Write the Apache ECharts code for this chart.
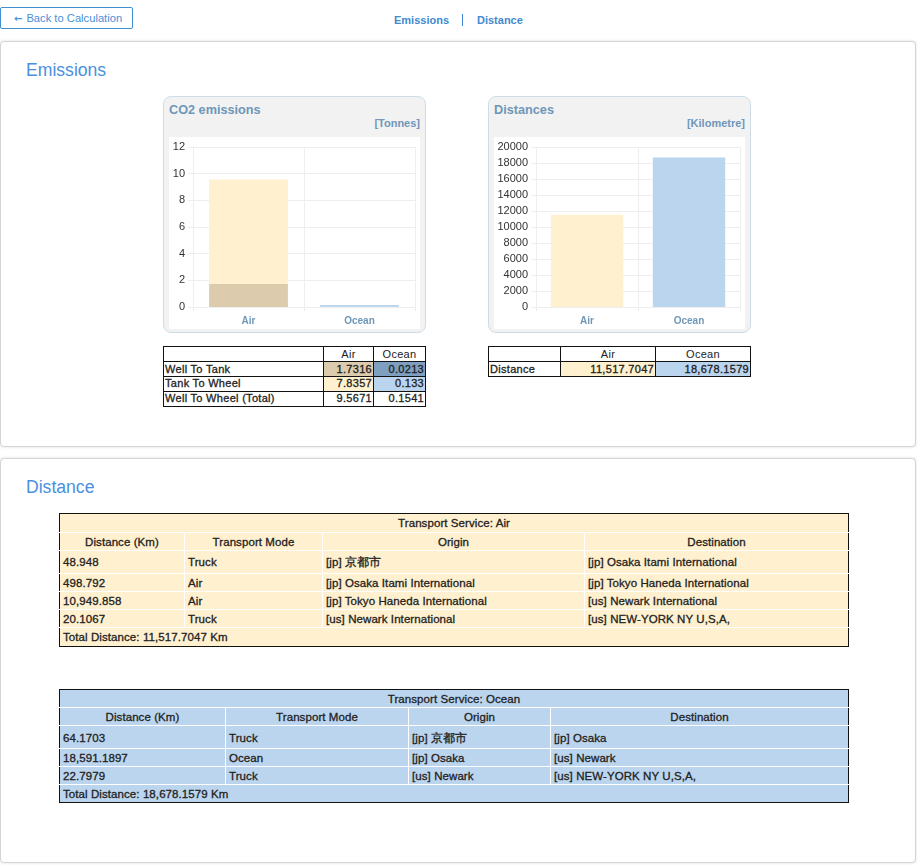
<!DOCTYPE html>
<html><head><meta charset="utf-8">
<script src="https://cdn.jsdelivr.net/npm/echarts@6/dist/echarts.min.js"></script>
<style>
html,body{margin:0;padding:0;background:#fff;width:917px;height:865px;overflow:hidden;font-family:"Liberation Sans",Arial,sans-serif;color:#222}
.abs{position:absolute;box-sizing:border-box}
.btn{left:0;top:7px;width:133px;height:22px;border:1px solid #3f8fd2;border-radius:2px;color:#4a90d9;font-size:11.2px;line-height:20px;padding-left:13px;white-space:nowrap}
.btn b{font-family:"DejaVu Sans";font-size:10px;margin-right:4px}
.nav{top:14px;font-size:11px;font-weight:bold;color:#3f8ad0;line-height:13px}
.navsep{left:462px;top:14px;width:1px;height:12px;background:#3f8ad0}
.panel{left:0;width:916px;border:1px solid #d4d4d4;border-radius:4px;background:#fff;box-shadow:0 0 3px rgba(0,0,0,.14)}
.h{left:26px;font-size:17.6px;line-height:22px;color:#4a90e0;font-weight:normal;margin:0}
.card{width:263px;height:237px;top:96px;background:#f2f2f3;border:1px solid #cddde8;border-radius:8px}
.ct{left:5px;top:5px;font-size:12.7px;font-weight:bold;color:#6e97b8;line-height:16px;white-space:nowrap}
.cu{right:5px;top:19px;font-size:11px;font-weight:bold;color:#6e97b8;line-height:14px;white-space:nowrap}
.chart{left:5px;top:40px;width:251px;height:192px;background:#fff}
table{border-collapse:collapse;table-layout:fixed;position:absolute;font-family:"Liberation Sans",Arial,sans-serif}
table.sm{font-size:11px;color:#222}
table.sm td{border:1px solid #111;padding:0 1px;height:14px;line-height:12px;overflow:hidden;white-space:nowrap;letter-spacing:.3px}
table.sm tr:nth-child(n+3) td{vertical-align:top}
table.sm td.n{text-align:right}
table.sm td.c{text-align:center}
table.sm td.b{-webkit-text-stroke:.3px #222}
table.dt{font-size:11.5px;color:#222;border:1px solid #111}
table.dt td{border:1px solid #fff;padding:0 3px;overflow:hidden;white-space:nowrap;-webkit-text-stroke:.3px #222;letter-spacing:.08px}
table.dt td.c{text-align:center}
table.dt tr td:first-child{border-left:0}
table.dt tr td:last-child{border-right:0}
table.dt tr:first-child td{border-top:0}
table.dt tr:last-child td{border-bottom:0}
</style></head><body>
<div class="abs btn"><b>&#8592;</b>Back to Calculation</div>
<div class="abs nav" style="left:394px">Emissions</div><div class="abs navsep"></div><div class="abs nav" style="left:477px">Distance</div>
<div class="abs panel" style="top:41px;height:406px"></div>
<h2 class="abs h" style="top:59px">Emissions</h2>
<div class="abs panel" style="top:458px;height:405px"></div>
<h2 class="abs h" style="top:476px">Distance</h2>

<div class="abs card" style="left:163px"><div class="abs ct">CO2 emissions</div><div class="abs cu">[Tonnes]</div><div class="abs chart" id="c1"></div></div>
<div class="abs card" style="left:488px"><div class="abs ct">Distances</div><div class="abs cu">[Kilometre]</div><div class="abs chart" id="c2"></div></div>
<div id="tables"></div>
<script>
const modes = ['Air', 'Ocean'];
const wellToTank = [1.7316, 0.0213];
const tankToWheel = [7.8357, 0.133];
const wellToWheel = [9.5671, 0.1541];
const distances = [11517.7047, 18678.1579];
const distanceLabels = ['11,517.7047', '18,678.1579'];
const co2Ticks = { max: 12, interval: 2 };
const distTicks = { max: 20000, interval: 2000 };

const detailHead = ['Distance (Km)', 'Transport Mode', 'Origin', 'Destination'];
const airRows = [
  ['48.948', 'Truck', '[jp] 京都市', '[jp] Osaka Itami International'],
  ['498.792', 'Air', '[jp] Osaka Itami International', '[jp] Tokyo Haneda International'],
  ['10,949.858', 'Air', '[jp] Tokyo Haneda International', '[us] Newark International'],
  ['20.1067', 'Truck', '[us] Newark International', '[us] NEW-YORK NY U,S,A,']
];
const oceanRows = [
  ['64.1703', 'Truck', '[jp] 京都市', '[jp] Osaka'],
  ['18,591.1897', 'Ocean', '[jp] Osaka', '[us] Newark'],
  ['22.7979', 'Truck', '[us] Newark', '[us] NEW-YORK NY U,S,A,']
];

const colAirLight = '#fff0cf', colAirDark = '#dccbad', colSeaLight = '#bbd5ee', colSeaDark = '#7f9fc0';
const axisText = '#6e97b8', gridCol = '#eceeef';

function chart(id, series, ticks, left, right) {
  const c = echarts.init(document.getElementById(id), null, { renderer: 'canvas' });
  c.setOption({
    animation: false,
    backgroundColor: '#fff',
    grid: { left: left, right: right, top: 10, height: 160, outerBoundsMode: 'none' },
    xAxis: {
      type: 'category', data: modes,
      axisLine: { lineStyle: { color: gridCol } },
      axisTick: { show: true, length: 4, lineStyle: { color: gridCol } },
      axisLabel: { color: axisText, fontSize: 10, fontWeight: 'bold', fontFamily: 'Liberation Sans', margin: 9 },
      splitLine: { show: true, lineStyle: { color: gridCol } }
    },
    yAxis: {
      type: 'value', min: 0, max: ticks.max, interval: ticks.interval,
      axisLine: { show: true, lineStyle: { color: gridCol } },
      axisTick: { show: true, length: 5, lineStyle: { color: gridCol } },
      axisLabel: { color: '#333', fontSize: 11, fontFamily: 'Liberation Sans', margin: 8, padding: [4, 0, 0, 0], formatter: v => String(v) },
      splitLine: { show: true, lineStyle: { color: gridCol } }
    },
    series: series
  });
}
const barGap = '29%';
chart('c1', [
  { type: 'bar', stack: 'a', barCategoryGap: barGap, data: [
    { value: wellToTank[0], itemStyle: { color: colAirDark } },
    { value: wellToTank[1], itemStyle: { color: colSeaDark } }] },
  { type: 'bar', stack: 'a', barCategoryGap: barGap, data: [
    { value: tankToWheel[0], itemStyle: { color: colAirLight } },
    { value: tankToWheel[1], itemStyle: { color: colSeaLight } }] }
], co2Ticks, 24, 5);
chart('c2', [
  { type: 'bar', barCategoryGap: barGap, data: [
    { value: distances[0], itemStyle: { color: colAirLight } },
    { value: distances[1], itemStyle: { color: colSeaLight } }] }
], distTicks, 42, 5);

function colgroup(w) { return '<colgroup>' + w.map(x => `<col style="width:${x}px">`).join('') + '</colgroup>'; }
const host = document.getElementById('tables');
function add(html) { host.insertAdjacentHTML('beforeend', html); }
const cell = (t, cls, bg) => `<td class="${cls}"${bg ? ` style="background:${bg}"` : ''}>${t}</td>`;

add(`<table class="sm" style="left:163px;top:346px;width:262px">${colgroup([160, 50, 52])}
<tr>${cell('&nbsp;', '')}${cell(modes[0], 'c')}${cell(modes[1], 'c')}</tr>
<tr>${cell('Well To Tank', 'b')}${cell(wellToTank[0], 'n b', colAirDark)}${cell(wellToTank[1], 'n b', colSeaDark)}</tr>
<tr>${cell('Tank To Wheel', 'b')}${cell(tankToWheel[0], 'n b', colAirLight)}${cell(tankToWheel[1], 'n b', colSeaLight)}</tr>
<tr>${cell('Well To Wheel (Total)', 'b')}${cell(wellToWheel[0], 'n b')}${cell(wellToWheel[1], 'n b')}</tr></table>`);
add(`<table class="sm" style="left:488px;top:346px;width:262px">${colgroup([72, 95, 95])}
<tr>${cell('&nbsp;', '')}${cell(modes[0], 'c')}${cell(modes[1], 'c')}</tr>
<tr>${cell('Distance', 'b')}${cell(distanceLabels[0], 'n b', colAirLight)}${cell(distanceLabels[1], 'n b', colSeaLight)}</tr></table>`);

function detail(top, mode, rows, total, widths, bg, titleH, firstPad, totalH) {
  let h = `<table class="dt" style="left:59px;top:${top}px;width:789px;background:${bg}">${colgroup(widths)}`;
  h += `<tr style="height:${titleH}px"><td class="c" colspan="4">Transport Service: ${mode}</td></tr>`;
  h += `<tr style="height:18px">${detailHead.map(x => `<td class="c">${x}</td>`).join('')}</tr>`;
  rows.forEach((r, i) => { h += `<tr style="height:${i ? 18 : 23}px">${r.map(x => `<td${!i && firstPad ? ' style="padding-top:2px"' : ''}>${x}</td>`).join('')}</tr>`; });
  h += `<tr style="height:${totalH}px"><td colspan="4">Total Distance: ${total} Km</td></tr></table>`;
  add(h);
}
detail(513, modes[0], airRows, distanceLabels[0], [125, 138, 262, 264], colAirLight, 19, false, 19);
detail(689, modes[1], oceanRows, distanceLabels[1], [166, 183, 142, 298], colSeaLight, 18, true, 18);
</script>
</body></html>
